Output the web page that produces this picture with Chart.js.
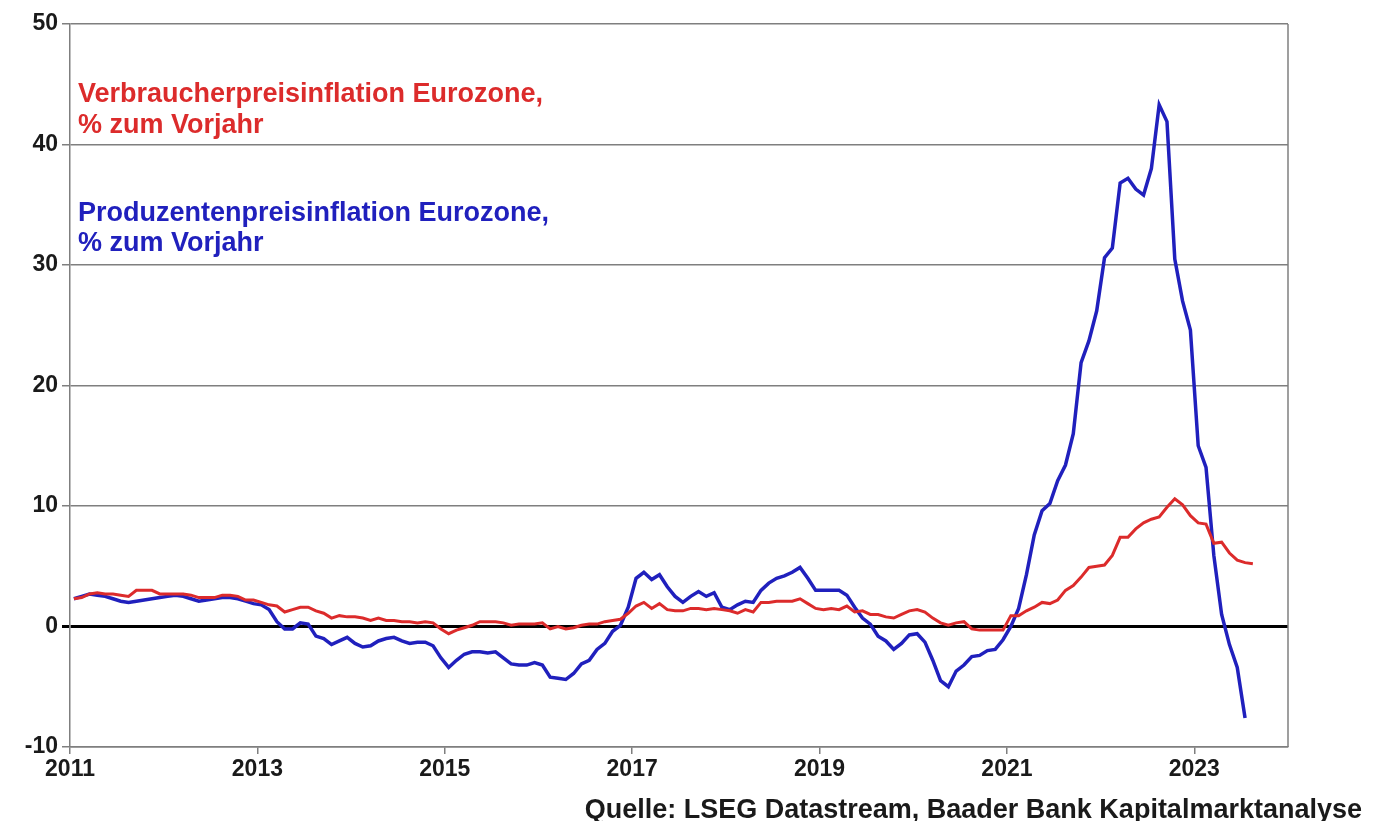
<!DOCTYPE html>
<html>
<head>
<meta charset="utf-8">
<script src="https://cdn.jsdelivr.net/npm/chart.js@4.4.0/dist/chart.umd.min.js"></script>
<style>
  html, body { margin: 0; padding: 0; background: #fff; }
  #wrap { width: 1374px; height: 821px; }
</style>
</head>
<body>
<div id="wrap"><canvas id="chart" width="1374" height="821"></canvas></div>
<script>
// ---------------- Daten ----------------
const startYear = 2011;
const tickYears = [2011, 2013, 2015, 2017, 2019, 2021, 2023];
const yMin = -10, yMax = 50;

const cpiText = ['Verbraucherpreisinflation Eurozone,', '% zum Vorjahr'];
const ppiText = ['Produzentenpreisinflation Eurozone,', '% zum Vorjahr'];
const sourceText = 'Quelle: LSEG Datastream, Baader Bank Kapitalmarktanalyse';

// Verbraucherpreise, % ggü. Vorjahr, monatlich ab Jan 2011
const cpi = [
  2.3, 2.4, 2.7, 2.8, 2.7, 2.7, 2.6, 2.5, 3.0, 3.0, 3.0, 2.7,   // 2011
  2.7, 2.7, 2.7, 2.6, 2.4, 2.4, 2.4, 2.6, 2.6, 2.5, 2.2, 2.2,   // 2012
  2.0, 1.8, 1.7, 1.2, 1.4, 1.6, 1.6, 1.3, 1.1, 0.7, 0.9, 0.8,   // 2013
  0.8, 0.7, 0.5, 0.7, 0.5, 0.5, 0.4, 0.4, 0.3, 0.4, 0.3, -0.2,  // 2014
  -0.6, -0.3, -0.1, 0.1, 0.4, 0.4, 0.4, 0.3, 0.1, 0.2, 0.2, 0.2, // 2015
  0.3, -0.2, 0.0, -0.2, -0.1, 0.1, 0.2, 0.2, 0.4, 0.5, 0.6, 1.1, // 2016
  1.7, 2.0, 1.5, 1.9, 1.4, 1.3, 1.3, 1.5, 1.5, 1.4, 1.5, 1.4,   // 2017
  1.3, 1.1, 1.4, 1.2, 2.0, 2.0, 2.1, 2.1, 2.1, 2.3, 1.9, 1.5,   // 2018
  1.4, 1.5, 1.4, 1.7, 1.2, 1.3, 1.0, 1.0, 0.8, 0.7, 1.0, 1.3,   // 2019
  1.4, 1.2, 0.7, 0.3, 0.1, 0.3, 0.4, -0.2, -0.3, -0.3, -0.3, -0.3, // 2020
  0.9, 0.9, 1.3, 1.6, 2.0, 1.9, 2.2, 3.0, 3.4, 4.1, 4.9, 5.0,   // 2021
  5.1, 5.9, 7.4, 7.4, 8.1, 8.6, 8.9, 9.1, 9.9, 10.6, 10.1, 9.2, // 2022
  8.6, 8.5, 6.9, 7.0, 6.1, 5.5, 5.3, 5.2                        // 2023
];

// Erzeugerpreise, % ggü. Vorjahr, monatlich ab Jan 2011
const ppi = [
  2.3, 2.5, 2.7, 2.6, 2.5, 2.3, 2.1, 2.0, 2.1, 2.2, 2.3, 2.4,   // 2011
  2.5, 2.6, 2.5, 2.3, 2.1, 2.2, 2.3, 2.4, 2.4, 2.3, 2.1, 1.9,   // 2012
  1.8, 1.4, 0.4, -0.2, -0.2, 0.3, 0.2, -0.8, -1.0, -1.5, -1.2, -0.9, // 2013
  -1.4, -1.7, -1.6, -1.2, -1.0, -0.9, -1.2, -1.4, -1.3, -1.3, -1.6, -2.6, // 2014
  -3.4, -2.8, -2.3, -2.1, -2.1, -2.2, -2.1, -2.6, -3.1, -3.2, -3.2, -3.0, // 2015
  -3.2, -4.2, -4.3, -4.4, -3.9, -3.1, -2.8, -1.9, -1.4, -0.4, 0.1, 1.6,  // 2016
  4.0, 4.5, 3.9, 4.3, 3.3, 2.5, 2.0, 2.5, 2.9, 2.5, 2.8, 1.6,   // 2017
  1.4, 1.8, 2.1, 2.0, 3.0, 3.6, 4.0, 4.2, 4.5, 4.9, 4.0, 3.0,   // 2018
  3.0, 3.0, 3.0, 2.6, 1.6, 0.7, 0.2, -0.8, -1.2, -1.9, -1.4, -0.7, // 2019
  -0.6, -1.3, -2.8, -4.5, -5.0, -3.7, -3.2, -2.5, -2.4, -2.0, -1.9, -1.1, // 2020
  0.0, 1.5, 4.3, 7.6, 9.6, 10.2, 12.1, 13.4, 16.0, 21.9, 23.7, 26.2, // 2021
  30.6, 31.4, 36.8, 37.2, 36.3, 35.8, 38.0, 43.3, 41.9, 30.5, 27.0, 24.6, // 2022
  15.0, 13.2, 5.9, 1.0, -1.5, -3.4, -7.6                        // 2023
];

// Monatswerte auf Monatsmitte legen
function toPoints(arr) {
  return arr.map((v, i) => ({ x: startYear + (i + 0.5) / 12, y: v }));
}

const FONT = '"Liberation Sans", Arial, sans-serif';
const RED = '#dc2b2b';
const BLUE = '#2020bd';
const GRID = '#7f7f7f';

// ---------------- Texte + Rahmen ----------------
const extras = {
  id: 'extras',
  afterDraw(chart) {
    const ctx = chart.ctx;
    const a = chart.chartArea;
    ctx.save();
    ctx.strokeStyle = GRID;
    ctx.lineWidth = 1.5;
    ctx.beginPath();
    ctx.moveTo(a.right, a.top);
    ctx.lineTo(a.right, a.bottom);
    ctx.stroke();

    ctx.font = 'bold 27px ' + FONT;
    ctx.textBaseline = 'alphabetic';
    ctx.textAlign = 'left';
    ctx.fillStyle = RED;
    ctx.fillText(cpiText[0], 78, 102);
    ctx.fillText(cpiText[1], 78, 133);
    ctx.fillStyle = BLUE;
    ctx.fillText(ppiText[0], 78, 221);
    ctx.fillText(ppiText[1], 78, 251);

    ctx.font = 'bold 27px ' + FONT;
    ctx.fillStyle = '#1a1a1a';
    ctx.textAlign = 'right';
    ctx.fillText(sourceText, 1362, 818);
    ctx.restore();
  }
};

const ctx = document.getElementById('chart').getContext('2d');
const chart = new Chart(ctx, {
  type: 'line',
  data: {
    datasets: [
      {
        label: cpiText.join(' '),
        data: toPoints(cpi),
        borderColor: RED,
        borderWidth: 3,
        pointRadius: 0,
        tension: 0
      },
      {
        label: ppiText.join(' '),
        data: toPoints(ppi),
        borderColor: BLUE,
        borderWidth: 3.5,
        pointRadius: 0,
        tension: 0
      }
    ]
  },
  options: {
    responsive: false,
    animation: false,
    layout: { padding: { top: 24, right: 86, left: 0, bottom: 0 } },
    plugins: { legend: { display: false }, tooltip: { enabled: false } },
    scales: {
      x: {
        type: 'linear',
        min: startYear,
        max: 2024,
        afterBuildTicks: s => { s.ticks = tickYears.map(v => ({ value: v })); },
        afterFit: s => { s.height = 74; },
        ticks: {
          callback: v => String(v),
          font: { family: FONT, size: 23, weight: 'bold' },
          color: '#1a1a1a',
          maxRotation: 0,
          autoSkip: false,
          padding: 2
        },
        grid: { drawOnChartArea: false, tickLength: 7, color: GRID, lineWidth: 1.5 },
        border: { color: GRID, width: 1.5 }
      },
      y: {
        min: yMin,
        max: yMax,
        afterFit: s => { s.width = 70; },
        ticks: {
          stepSize: 10,
          font: { family: FONT, size: 23, weight: 'bold' },
          color: '#1a1a1a',
          padding: 4
        },
        grid: {
          tickLength: 8,
          color: c => (c.tick && c.tick.value === 0 ? '#000' : GRID),
          lineWidth: c => (c.tick && c.tick.value === 0 ? 3 : 1.5)
        },
        border: { color: GRID, width: 1.5 }
      }
    }
  },
  plugins: [extras]
});
</script>
</body>
</html>
